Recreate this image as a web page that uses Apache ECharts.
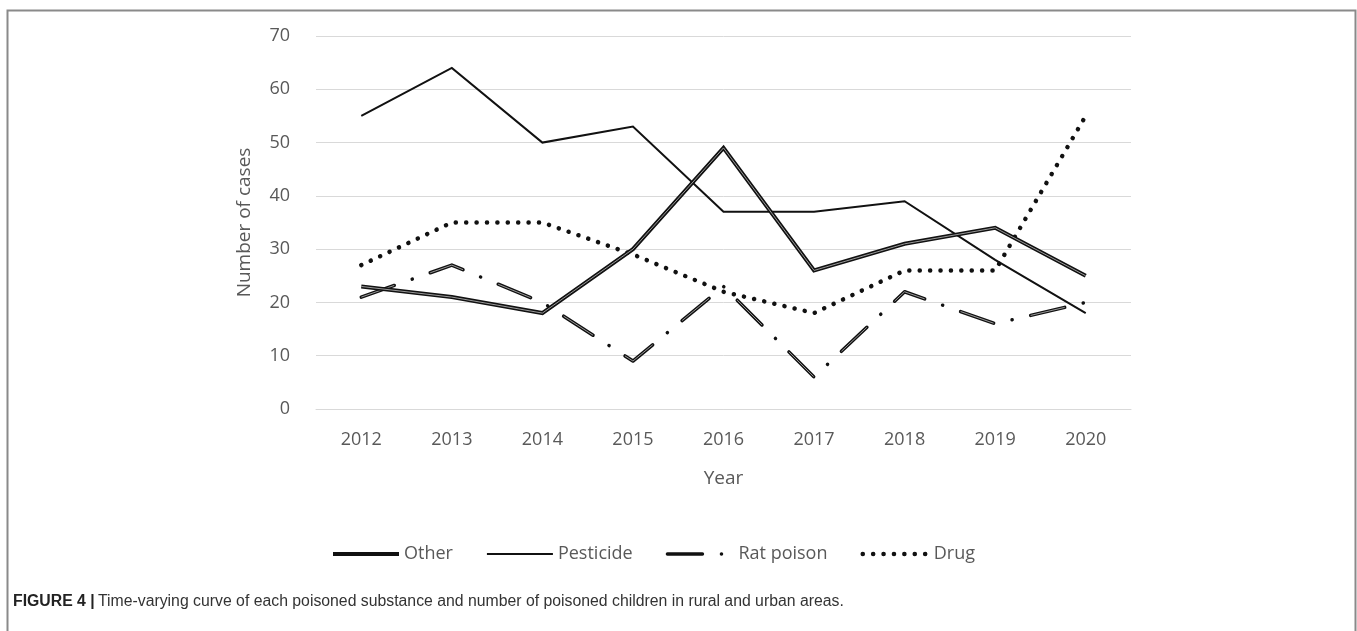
<!DOCTYPE html>
<html>
<head>
<meta charset="utf-8">
<title>Poisoning cases by substance, 2012–2020</title>
<script src="https://cdn.jsdelivr.net/npm/echarts@6/dist/echarts.min.js"></script>
<style>
  html, body { margin: 0; padding: 0; background: #ffffff; }
  #chart { width: 1357px; height: 631px; }
</style>
</head>
<body>
<div id="chart"></div>
<script>
// Yearly number of poisoning cases per substance
const years = ['2012', '2013', '2014', '2015', '2016', '2017', '2018', '2019', '2020'];
const other = [23, 21, 18, 30, 49, 26, 31, 34, 25];
const pesticide = [55, 64, 50, 53, 37, 37, 39, 28, 18];
const ratPoison = [21, 27, 20, 9, 23, 6, 22, 16, 20];
const drug = [27, 35, 35, 29, 22, 18, 26, 26, 55];
const yTicks = { min: 0, max: 70, interval: 10 };

const AXIS_FONT = "'Open Sans', sans-serif";
const LABEL_GREY = '#595959';
const INK = '#111111';

// line looks shared by the series and their legend icons
const otherStyle = { color: INK, width: 4, join: 'miter' };
const pesticideStyle = { color: INK, width: 2, join: 'miter' };
const ratStyle = { color: INK, width: 3.5, type: [35, 19, 0.1, 19], cap: 'round', join: 'round' };
const drugStyle = { color: INK, width: 4.5, type: [0.1, 10.3], cap: 'round', join: 'round' };

const chart = echarts.init(document.getElementById('chart'), null, { renderer: 'canvas' });

const option = {
  backgroundColor: '#ffffff',
  animation: false,
  grid: { left: 316, right: 226, top: 36, bottom: 222, containLabel: false },
  legend: {
    data: [
      { name: 'Other', lineStyle: { width: 4 } },
      { name: 'Pesticide', lineStyle: { width: 2 } },
      { name: 'Rat poison', lineStyle: { width: 3.5 } },
      { name: 'Drug', lineStyle: { width: 4.5 } }
    ],
    left: 326,
    top: 540,
    itemWidth: 66,
    itemHeight: 14,
    itemGap: 33,
    itemStyle: { opacity: 0 },
    textStyle: { fontSize: 18, color: LABEL_GREY, fontFamily: AXIS_FONT }
  },
  xAxis: {
    type: 'category',
    data: years,
    boundaryGap: true,
    name: 'Year',
    nameLocation: 'middle',
    nameGap: 60,
    nameTextStyle: { fontSize: 19, color: LABEL_GREY, fontFamily: AXIS_FONT },
    axisLine: { show: true, lineStyle: { color: '#d9d9d9', width: 1 } },
    axisTick: { show: false },
    axisLabel: { margin: 22, fontSize: 18, color: LABEL_GREY, fontFamily: AXIS_FONT }
  },
  yAxis: {
    type: 'value',
    min: yTicks.min,
    max: yTicks.max,
    interval: yTicks.interval,
    name: 'Number of cases',
    nameLocation: 'middle',
    nameGap: 62,
    nameTextStyle: { fontSize: 19, color: LABEL_GREY, fontFamily: AXIS_FONT },
    axisLine: { show: false },
    axisTick: { show: false },
    axisLabel: { margin: 26, fontSize: 18, color: LABEL_GREY, fontFamily: AXIS_FONT },
    splitLine: { show: true, lineStyle: { color: '#d9d9d9', width: 1 } }
  },
  series: [
    {
      name: 'Pesticide',
      type: 'line',
      data: pesticide,
      symbol: 'none',
      lineStyle: pesticideStyle,
      itemStyle: { color: INK },
      z: 3
    },
    {
      name: 'Drug',
      type: 'line',
      data: drug,
      symbol: 'none',
      lineStyle: drugStyle,
      itemStyle: { color: INK },
      z: 2
    },
    {
      name: 'Rat poison',
      type: 'line',
      data: ratPoison,
      symbol: 'none',
      lineStyle: ratStyle,
      itemStyle: { color: INK },
      z: 4
    },
    {
      // light core inside the rat-poison dashes (double-line look)
      name: 'Rat poison core',
      type: 'line',
      data: ratPoison,
      symbol: 'none',
      silent: true,
      lineStyle: { color: '#9a9a9a', width: 1, type: [35, 38.1], cap: 'butt', join: 'round' },
      z: 5
    },
    {
      name: 'Other',
      type: 'line',
      data: other,
      symbol: 'none',
      lineStyle: otherStyle,
      itemStyle: { color: INK },
      z: 6
    },
    {
      // light core inside the "Other" line (double-line look)
      name: 'Other core',
      type: 'line',
      data: other,
      symbol: 'none',
      silent: true,
      lineStyle: { color: '#9a9a9a', width: 1, join: 'miter' },
      z: 7
    }
  ],
  graphic: [
    // figure frame
    {
      type: 'polyline',
      shape: { points: [[7.5, 631], [7.5, 10.5], [1355.5, 10.5], [1355.5, 631]] },
      style: { stroke: '#8a8a8a', lineWidth: 2, fill: null },
      silent: true
    },
    // caption
    {
      type: 'text',
      left: 13,
      top: 594,
      style: {
        text: '{b|FIGURE 4 |} {n|Time-varying curve of each poisoned substance and number of poisoned children in rural and urban areas.}',
        rich: {
          b: { fontFamily: "'Liberation Sans', Arial, sans-serif", fontSize: 15.8, fontWeight: 'bold', fill: '#222222' },
          n: { fontFamily: "'Liberation Sans', Arial, sans-serif", fontSize: 15.8, fill: '#333333' }
        }
      },
      silent: true
    }
  ]
};

chart.setOption(option);
</script>
</body>
</html>
